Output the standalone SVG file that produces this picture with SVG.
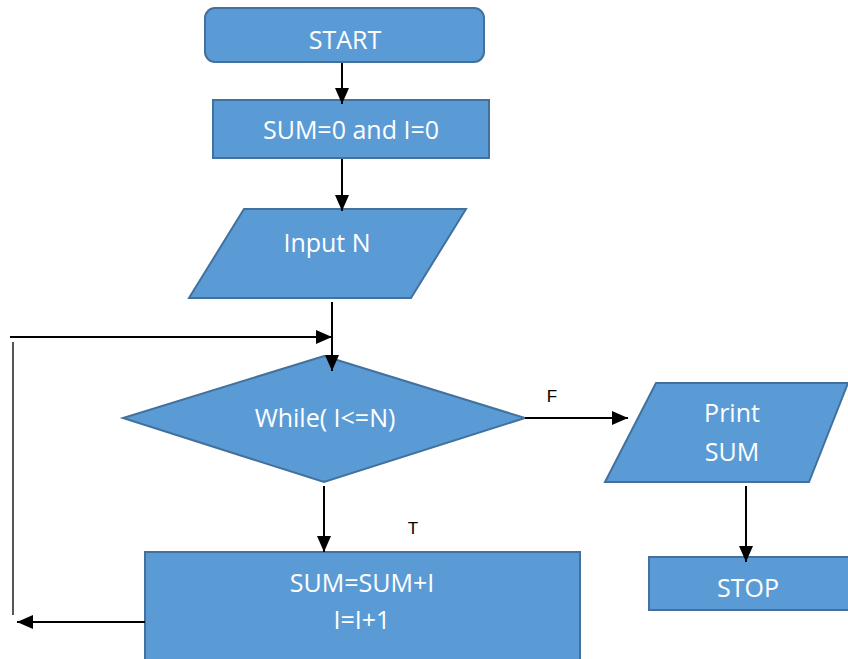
<svg xmlns="http://www.w3.org/2000/svg" width="848" height="659" viewBox="0 0 848 659">
<style>
.shape{fill:#5B9BD5;stroke:#41719C;stroke-width:2}
.lbl{font-family:"Open Sans","Liberation Sans",sans-serif;font-size:25px;fill:#FFFFFF;text-anchor:middle}
.edge{stroke:#000;stroke-width:2;fill:none}
.tf{font-family:"Liberation Sans",sans-serif;font-size:17px;fill:#000;text-anchor:middle}
</style>
<defs>
<marker id="ahb" markerWidth="16" markerHeight="14" refX="16" refY="7" orient="auto" markerUnits="userSpaceOnUse" viewBox="0 0 16 14">
<path d="M0,0 L16,7 L0,14 Z" fill="#000"/>
</marker>
</defs>
<rect width="848" height="659" fill="#FFFFFF"/>
<g id="start">
<rect class="shape" x="205" y="8" width="279" height="54" rx="10"/>
<text class="lbl" x="345" y="49">START</text>
</g>
<g id="init">
<rect class="shape" x="213" y="100" width="276" height="58"/>
<text class="lbl" x="351" y="139">SUM=0 and I=0</text>
</g>
<g id="input">
<polygon class="shape" points="244,209 466,209 411,298 189,298"/>
<text class="lbl" x="327" y="252">Input N</text>
</g>
<g id="decision">
<polygon class="shape" points="324,356 525,418 324,482 123,418"/>
<text class="lbl" x="325" y="427">While( I&lt;=N)</text>
</g>
<g id="print">
<polygon class="shape" points="656,383 848,383 809,482 605,482"/>
<text class="lbl" x="732" y="422">Print</text>
<text class="lbl" x="732" y="461">SUM</text>
</g>
<g id="stop">
<rect class="shape" x="649" y="557" width="205" height="53"/>
<text class="lbl" x="748" y="597">STOP</text>
</g>
<g id="body">
<rect class="shape" x="145" y="552" width="435" height="115"/>
<text class="lbl" x="362" y="592">SUM=SUM+I</text>
<text class="lbl" x="362" y="629">I=I+1</text>
</g>
<g id="connectors">
<line class="edge" x1="342" y1="63" x2="342" y2="104" marker-end="url(#ahb)"/>
<line class="edge" x1="342" y1="159" x2="342" y2="211" marker-end="url(#ahb)"/>
<line class="edge" x1="332" y1="302" x2="332" y2="371" marker-end="url(#ahb)"/>
<line class="edge" x1="10" y1="337" x2="332" y2="337" marker-end="url(#ahb)"/>
<line x1="13" y1="342" x2="13" y2="615" stroke="#555" stroke-width="2"/>
<line class="edge" x1="145" y1="622" x2="17" y2="622" marker-end="url(#ahb)"/>
<line class="edge" x1="525" y1="418" x2="628" y2="418" marker-end="url(#ahb)"/>
<line class="edge" x1="324" y1="486" x2="324" y2="552" marker-end="url(#ahb)"/>
<line class="edge" x1="746" y1="486" x2="746" y2="562" marker-end="url(#ahb)"/>
<text class="tf" x="552" y="402">F</text>
<text class="tf" x="413" y="534">T</text>
</g>
</svg>
